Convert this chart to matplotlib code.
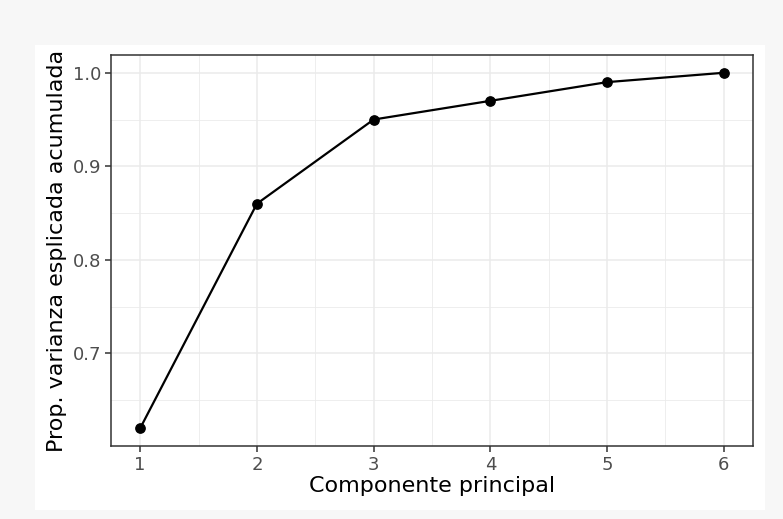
import numpy as np
import matplotlib
matplotlib.use('Agg')
import matplotlib.pyplot as plt
from matplotlib.patches import Rectangle
from matplotlib.ticker import MultipleLocator

# data
componente = [1, 2, 3, 4, 5, 6]
prop_acumulada = [0.62, 0.86, 0.95, 0.97, 0.99, 1.00]
y_ticks = [0.7, 0.8, 0.9, 1.0]

W, H = 783, 519
fig = plt.figure(figsize=(W / 100, H / 100), dpi=100)
fig.patch.set_facecolor('#f7f7f7')
# white inner card, kept behind the axes
fig.patches.append(Rectangle((35 / W, 1 - 510 / H), 730 / W, 465 / H,
                             transform=fig.transFigure, facecolor='white',
                             edgecolor='none', zorder=-10))

ax = fig.add_axes([111 / W, 1 - 446 / H, (753 - 111) / W, (446 - 55) / H])
ax.set_facecolor('white')

ax.plot(componente, prop_acumulada, color='black', lw=1.6, zorder=3)
ax.scatter(componente, prop_acumulada, color='black', s=45, zorder=4)

rng = prop_acumulada[-1] - prop_acumulada[0]
ax.set_xlim(0.75, 6.25)
ax.set_ylim(prop_acumulada[0] - 0.05 * rng, max(prop_acumulada) + 0.05 * rng)
ax.set_xticks(componente)
ax.set_yticks(y_ticks)
ax.set_yticklabels([f"{v:.1f}" for v in y_ticks])
ax.xaxis.set_minor_locator(MultipleLocator(0.5))
ax.yaxis.set_minor_locator(MultipleLocator(0.05))

ax.grid(which='major', color='#ebebeb', lw=1.1, zorder=0)
ax.grid(which='minor', color='#ebebeb', lw=0.6, zorder=0)
ax.set_axisbelow(True)
ax.tick_params(which='minor', length=0)
ax.tick_params(which='major', length=4, width=1.1, color='#333333',
               labelcolor='#4d4d4d', labelsize=13, pad=3)
for s in ax.spines.values():
    s.set_color('#333333')
    s.set_linewidth(1.1)

ax.set_xlabel('Componente principal', fontsize=16, labelpad=2)
ax.set_ylabel('Prop. varianza esplicada acumulada', fontsize=16, labelpad=4)

fig.savefig('out.png', dpi=100, facecolor=fig.get_facecolor())
